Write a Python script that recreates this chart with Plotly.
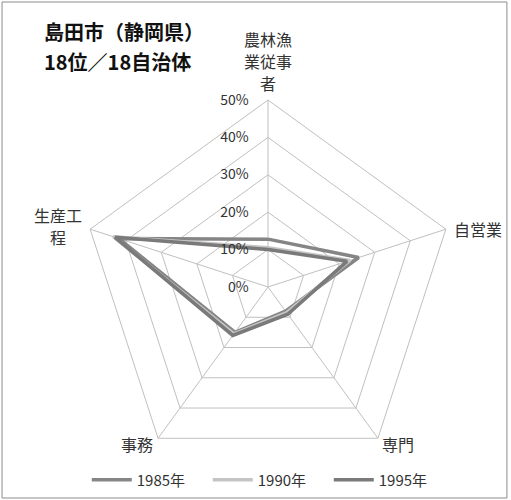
import plotly.graph_objects as go

# Occupation categories (clockwise from top)
categories = ["農林漁業従事者", "自営業", "専門", "事務", "生産工程"]
# How each category name is wrapped when drawn around the chart
category_lines = [["農林漁", "業従事", "者"], ["自営業"], ["専門"], ["事務"], ["生産工", "程"]]

# Share of workers by occupation (%)
years = ["1985年", "1990年", "1995年"]
v1985 = [12.8, 25.5, 8.0, 15.0, 42.0]
v1990 = [10.5, 23.0, 8.5, 15.5, 43.5]
v1995 = [10.0, 22.2, 9.0, 16.0, 43.0]
series = [v1985, v1990, v1995]
colors = ["#858585", "#c4c4c4", "#7a7a7a"]

radial_ticks = [0, 10, 20, 30, 40, 50]

title_lines = ["島田市（静岡県）", "18位／18自治体"]

font_jp = "Noto Sans CJK JP"

fig = go.Figure()
for name, vals, col in zip(years, series, colors):
    fig.add_trace(go.Scatterpolar(
        r=vals + vals[:1],
        theta=categories + categories[:1],
        mode="lines",
        name=name,
        line=dict(color=col, width=3.5),
    ))

fig.update_layout(
    width=511, height=500,
    margin=dict(l=0, r=0, t=0, b=0),
    paper_bgcolor="white",
    plot_bgcolor="white",
    font=dict(family=font_jp, size=13, color="#333333"),
    polar=dict(
        domain=dict(x=[0.1585, 0.8904], y=[0.052, 0.8]),
        bgcolor="white",
        gridshape="linear",
        angularaxis=dict(
            direction="clockwise",
            rotation=90,
            showline=True,
            linecolor="#c0c0c0",
            gridcolor="#c0c0c0",
            gridwidth=1,
            ticks="",
            showticklabels=False,
        ),
        radialaxis=dict(
            range=[0, 50],
            tickvals=radial_ticks,
            ticktext=[f"{t}%" for t in radial_ticks],
            angle=90,
            tickangle=90,
            side="counterclockwise",
            showline=False,
            gridcolor="#c0c0c0",
            gridwidth=1,
            ticks="outside",
            ticklen=14,
            tickcolor="rgba(0,0,0,0)",
            tickfont=dict(size=14, family=font_jp, color="#333333"),
        ),
    ),
    legend=dict(
        orientation="h",
        x=0.525, xanchor="center",
        y=0.04, yanchor="middle",
        bgcolor="rgba(0,0,0,0)",
        font=dict(size=15, family=font_jp, color="#333333"),
        entrywidth=66,
        entrywidthmode="pixels",
        itemwidth=40,
    ),
    showlegend=True,
)

# Category name placement around the pentagon (pixel centre of first line)
label_pos = [(268, 39), (478, 229), (398, 444), (137, 444), (58, 215)]
line_step = 22
for lines, (px, py) in zip(category_lines, label_pos):
    for j, txt in enumerate(lines):
        fig.add_annotation(
            text=txt,
            xref="paper", yref="paper",
            x=px / 511, y=1 - (py + j * line_step) / 500,
            xanchor="center", yanchor="middle",
            showarrow=False,
            font=dict(size=16, family=font_jp, color="#333333"),
        )

for i, line in enumerate(title_lines):
    fig.add_annotation(
        text=f"<b>{line}</b>",
        xref="paper", yref="paper",
        x=0.083, y=0.97 - i * 0.06, xanchor="left", yanchor="top",
        align="left", showarrow=False,
        font=dict(size=20, family=font_jp, color="#111111"),
    )

fig.add_shape(
    type="rect", xref="paper", yref="paper",
    x0=0.004, y0=0.004, x1=0.992, y1=0.996,
    line=dict(color="#8c8c8c", width=1),
)

fig.write_html("out.html")
